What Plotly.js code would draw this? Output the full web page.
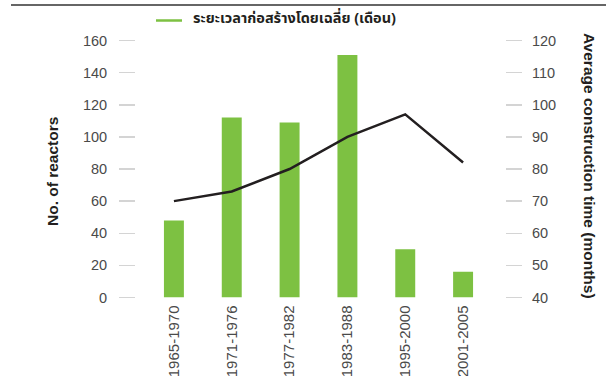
<!DOCTYPE html>
<html>
<head>
<meta charset="utf-8">
<script src="https://cdn.plot.ly/plotly-3.0.1.min.js"></script>
<style>html,body{margin:0;padding:0;background:#fff;}#chart{width:606px;height:376px;}</style>
</head>
<body>
<div id="chart"></div>
<script>
const categories = ['1965-1970', '1971-1976', '1977-1982', '1983-1988', '1995-2000', '2001-2005'];
const reactors = [48, 112, 109, 151, 30, 16];
const constructionMonths = [70, 73, 80, 90, 97, 82];
const leftTicks = [0, 20, 40, 60, 80, 100, 120, 140, 160];
const rightTicks = [40, 50, 60, 70, 80, 90, 100, 110, 120];
const legendLabel = 'ระยะเวลาก่อสร้างโดยเฉลี่ย (เดือน)';
const leftTitle = 'No. of reactors';
const rightTitle = 'Average construction time (months)';

const W = 606, H = 376;
const px = v => v / W;
const py = v => (H - v) / H;

const FONT = 'Liberation Sans, Arial, Helvetica, sans-serif';
const THAI = 'Noto Sans Thai, Noto Sans Thai Looped, Noto Sans, Liberation Sans, sans-serif';
const tickFont = {family: FONT, size: 14.5, color: '#4a4a4a'};

const traces = [
  {
    type: 'bar',
    x: categories,
    y: reactors,
    marker: {color: '#7dc142'},
    width: 0.345,
    yaxis: 'y',
    showlegend: false,
    hoverinfo: 'x+y'
  },
  {
    type: 'scatter',
    mode: 'lines',
    x: categories,
    y: constructionMonths,
    line: {color: '#231f20', width: 2.5},
    yaxis: 'y2',
    showlegend: false,
    name: legendLabel
  }
];

const layout = {
  width: W,
  height: H,
  margin: {l: 0, r: 0, t: 0, b: 0},
  paper_bgcolor: '#ffffff',
  plot_bgcolor: '#ffffff',
  showlegend: false,
  xaxis: {
    type: 'category',
    domain: [px(145), px(492)],
    range: [-0.5, 5.5],
    tickangle: -90,
    ticks: '',
    showline: false,
    showgrid: false,
    zeroline: false,
    tickfont: {family: FONT, size: 15, color: '#4a4a4a'},
    ticklabelstandoff: 4
  },
  yaxis: {
    domain: [py(297.5), py(40.5)],
    range: [0, 160],
    tickvals: leftTicks,
    anchor: 'free',
    position: px(135),
    side: 'left',
    ticks: 'outside',
    ticklen: 16,
    tickwidth: 1.5,
    tickcolor: '#d4d4d4',
    showline: false,
    showgrid: false,
    zeroline: false,
    tickfont: tickFont,
    ticklabelstandoff: 9
  },
  yaxis2: {
    overlaying: 'y',
    range: [40, 120],
    tickvals: rightTicks,
    anchor: 'free',
    position: px(505),
    side: 'right',
    ticks: 'outside',
    ticklen: 16,
    tickwidth: 1.5,
    tickcolor: '#d4d4d4',
    showline: false,
    showgrid: false,
    zeroline: false,
    tickfont: tickFont,
    ticklabelstandoff: 7
  },
  shapes: [
    {type: 'line', xref: 'paper', yref: 'paper', x0: px(11), x1: 1, y0: py(5), y1: py(5),
     line: {color: '#666666', width: 2}},
    {type: 'line', xref: 'paper', yref: 'paper', x0: px(156), x1: px(182), y0: py(20.5), y1: py(20.5),
     line: {color: '#7dc142', width: 2.5}}
  ],
  annotations: [
    {text: '<b>' + legendLabel + '</b>', xref: 'paper', yref: 'paper', x: px(191), y: py(19),
     xanchor: 'left', yanchor: 'middle', showarrow: false,
     font: {family: THAI, size: 14.5, color: '#231f20'}},
    {text: '<b>' + leftTitle + '</b>', xref: 'paper', yref: 'paper', x: px(52), y: py(172),
     xanchor: 'center', yanchor: 'middle', textangle: -90, showarrow: false,
     font: {family: FONT, size: 15.5, color: '#231f20'}},
    {text: '<b>' + rightTitle + '</b>', xref: 'paper', yref: 'paper', x: px(590), y: py(166),
     xanchor: 'center', yanchor: 'middle', textangle: 90, showarrow: false,
     font: {family: FONT, size: 15.5, color: '#231f20'}}
  ]
};

Plotly.newPlot('chart', traces, layout, {staticPlot: true, displayModeBar: false});
</script>
</body>
</html>
